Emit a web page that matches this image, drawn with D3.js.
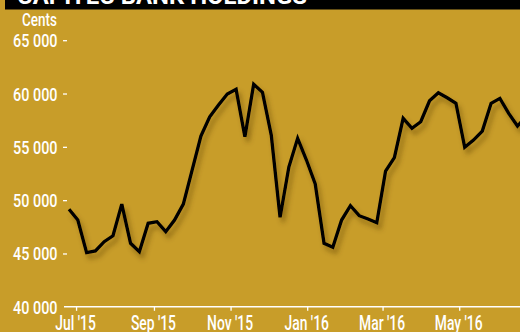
<!DOCTYPE html>
<html>
<head>
<meta charset="utf-8">
<script src="https://cdn.jsdelivr.net/npm/d3@7"></script>
<style>
  html, body { margin: 0; padding: 0; background: #c89d29; }
  svg { display: block; }
</style>
</head>
<body>
<svg id="chart" width="520" height="332"></svg>
<script>
// Weekly closing prices, cents
const startDate = '2015-06-25';
const prices = [
  49200, 48180, 45120, 45280, 46150, 46710, 49680, 46000, 45210, 47880,
  48030, 47090, 48180, 49680, 52870, 56060, 57870, 58970, 60000, 60440,
  55990, 60910, 60160, 56150, 48440, 53150, 55840, 53810, 51560, 46000,
  45630, 48180, 49530, 48590, 48280, 47930, 52780, 54030, 57720, 56780,
  57400, 59370, 60120, 59650, 59130, 55000, 55680, 56530, 59130, 59590,
  58190, 57000, 57900
];
const yTicks = [40000, 45000, 50000, 55000, 60000, 65000];
const xTicks = ['2015-07-01', '2015-09-01', '2015-11-01', '2016-01-01', '2016-03-01', '2016-05-01'];
const title = 'CAPITEC BANK HOLDINGS';
const unitLabel = 'Cents';

const width = 520, height = 332;
const margin = { top: 40.7, right: 0, bottom: 25, left: 64 };
const parse = d3.utcParse('%Y-%m-%d');
const fmtTick = d3.utcFormat("%b '%y");
const fmtNum = v => d3.format(',')(v).replace(',', ' ');

const t0 = parse(startDate);
const data = prices.map((v, i) => ({ date: d3.utcDay.offset(t0, i * 7), value: v }));

const svg = d3.select('#chart');

const x = d3.scaleUtc()
  .domain([parse('2015-06-21'), parse('2016-06-18')])
  .range([margin.left, width - margin.right]);

const y = d3.scaleLinear()
  .domain([40000, 65000])
  .range([307.3, margin.top]);

// drop shadow under the line
const defs = svg.append('defs');
const f = defs.append('filter').attr('id', 'shadow')
  .attr('x', '-10%').attr('y', '-10%').attr('width', '120%').attr('height', '130%');
f.append('feGaussianBlur').attr('in', 'SourceAlpha').attr('stdDeviation', 2.6).attr('result', 'blur');
f.append('feOffset').attr('in', 'blur').attr('dx', 3).attr('dy', 5).attr('result', 'off');
f.append('feFlood').attr('flood-color', '#5a3d00').attr('flood-opacity', 0.5);
f.append('feComposite').attr('in2', 'off').attr('operator', 'in').attr('result', 'sh');
const m = f.append('feMerge');
m.append('feMergeNode').attr('in', 'sh');
m.append('feMergeNode').attr('in', 'SourceGraphic');

// title bar (cut off at top)
svg.append('rect')
  .attr('x', 5).attr('y', 0).attr('width', width - 5).attr('height', 9.5)
  .attr('fill', '#000');
svg.append('text')
  .attr('x', 17).attr('y', 3.5)
  .attr('textLength', 290).attr('lengthAdjust', 'spacingAndGlyphs')
  .attr('font-family', 'Roboto, sans-serif').attr('font-weight', 700)
  .attr('font-size', 24).attr('fill', '#fff')
  .text(title);

// unit label
svg.append('text')
  .attr('transform', 'translate(22,26) scale(0.71,1)')
  .attr('font-family', 'Roboto, sans-serif').attr('font-size', 19)
  .attr('font-weight', 500)
  .attr('fill', '#fff')
  .text(unitLabel);

// y axis labels and dashes
const yAxis = svg.append('g');
yAxis.selectAll('text')
  .data(yTicks)
  .join('text')
  .attr('transform', d => `translate(57.5,${y(d)}) scale(0.8,1)`)
  .attr('dy', '0.36em')
  .attr('text-anchor', 'end')
  .attr('font-family', 'Roboto, sans-serif').attr('font-size', 18)
  .attr('font-weight', 500)
  .attr('fill', '#fff')
  .text(fmtNum);
yAxis.selectAll('line')
  .data(yTicks.filter(d => d > 40000))
  .join('line')
  .attr('x1', 63).attr('x2', 67)
  .attr('y1', d => y(d)).attr('y2', d => y(d))
  .attr('stroke', '#fff').attr('stroke-width', 1.3);

// x axis
const xAxisY = 306.8;
const xAxis = svg.append('g');
xAxis.append('line')
  .attr('x1', margin.left).attr('x2', width)
  .attr('y1', xAxisY).attr('y2', xAxisY)
  .attr('stroke', '#fff').attr('stroke-width', 1.5);
xAxis.selectAll('line.tick')
  .data(xTicks.map(parse))
  .join('line')
  .attr('class', 'tick')
  .attr('x1', d => x(d)).attr('x2', d => x(d))
  .attr('y1', xAxisY).attr('y2', xAxisY + 4)
  .attr('stroke', '#fff').attr('stroke-width', 1.3);
xAxis.selectAll('text')
  .data(xTicks.map(parse))
  .join('text')
  .attr('transform', d => `translate(${x(d) - 1},329.5) scale(0.66,1)`)
  .attr('text-anchor', 'middle')
  .attr('font-family', 'Roboto, sans-serif').attr('font-size', 21)
  .attr('font-weight', 500)
  .attr('fill', '#fff')
  .text(fmtTick);

// price line
const line = d3.line()
  .x(d => x(d.date))
  .y(d => y(d.value));

svg.append('path')
  .datum(data)
  .attr('d', line)
  .attr('fill', 'none')
  .attr('stroke', '#000')
  .attr('stroke-width', 3.3)
  .attr('stroke-linejoin', 'miter')
  .attr('stroke-miterlimit', 3)
  .attr('filter', 'url(#shadow)');
</script>
</body>
</html>
